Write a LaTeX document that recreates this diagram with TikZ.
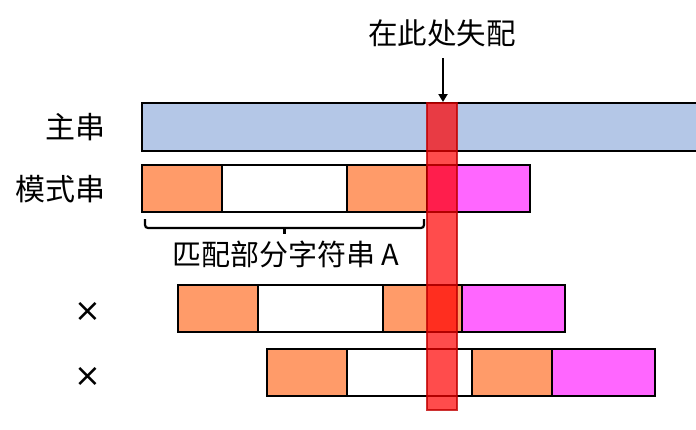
\documentclass[tikz,border=0pt]{standalone}
\usepackage{fontspec}
\newfontfamily\cjk{Noto Sans CJK SC}
\newfontfamily\symb{DejaVu Sans}
\usetikzlibrary{arrows.meta}
\definecolor{mainblue}{HTML}{B4C7E7}
\definecolor{segorange}{HTML}{FF9B69}
\definecolor{segpink}{HTML}{FF66FF}
\definecolor{bandedge}{HTML}{C00000}
\begin{document}
\begin{tikzpicture}[x=1pt,y=-1pt,
    seg/.style={draw,line width=1.5pt},
    lbl/.style={font=\cjk\fontsize{30}{36}\selectfont,inner sep=0pt}]

    \clip (0,0) rectangle (696,429);

    % main string
    \draw[seg,fill=mainblue] (142,103) rectangle (710,151);

    % pattern string
    \draw[seg,fill=segorange] (142,165) rectangle (222,212);
    \draw[seg,fill=white] (222,165) rectangle (347,212);
    \draw[seg,fill=segorange] (347,165) rectangle (427,212);
    \draw[seg,fill=segpink] (427,165) rectangle (530,212);

    % first shift
    \draw[seg,fill=segorange] (178,285) rectangle (258,332);
    \draw[seg,fill=white] (258,285) rectangle (383,332);
    \draw[seg,fill=segorange] (383,285) rectangle (462,332);
    \draw[seg,fill=segpink] (462,285) rectangle (565,332);

    % second shift
    \draw[seg,fill=segorange] (267,349) rectangle (347,396);
    \draw[seg,fill=white] (347,349) rectangle (472,396);
    \draw[seg,fill=segorange] (472,349) rectangle (552,396);
    \draw[seg,fill=segpink] (552,349) rectangle (655,396);

    % mismatch column
    \draw[line width=1.5pt,draw=bandedge,draw opacity=0.8,fill=red,fill opacity=0.7]
        (427,103) rectangle (457,410);

    \node[lbl,anchor=east] (mainlbl) at (106,127) {主串};
    \node[lbl,anchor=east] (patlbl) at (106,189) {模式串};
    \node[lbl,font=\symb\fontsize{32}{36}\selectfont] (x1) at (88,312) {×};
    \node[lbl,font=\symb\fontsize{32}{36}\selectfont] (x2) at (88,377) {×};

    \node[font=\cjk\fontsize{29.5}{34}\selectfont,inner sep=0pt] (mis) at (442,33) {在此处失配};
    \coordinate (start) at (443,58);
    \coordinate (hit) at (443,102);
    \draw[line width=2pt,-{Triangle[width=9pt,length=8pt]}] (start) -- (hit);

    % brace under the matched part
    \draw[line width=2.2pt,rounded corners=3pt]
        (145,219) -- (145,228) -- (424,228) -- (424,219);
    \draw[line width=3pt] (284,228) -- (284,234);
    \node[font=\cjk\fontsize{29}{34}\selectfont,inner sep=0pt] (matched) at (286,254) {匹配部分字符串~A};

\end{tikzpicture}
\end{document}
